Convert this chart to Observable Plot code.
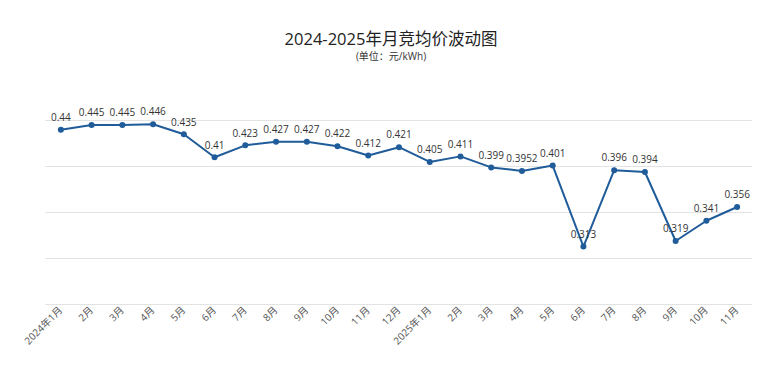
<!DOCTYPE html>
<html>
<head>
<meta charset="utf-8">
<script src="https://cdn.jsdelivr.net/npm/d3@7"></script>
<script src="https://cdn.jsdelivr.net/npm/@observablehq/plot@0.6"></script>
<style>
  html, body { margin: 0; padding: 0; background: #fff; }
  #wrap { position: relative; width: 782px; height: 380px; font-family: "Open Sans", "Noto Sans CJK SC", sans-serif; }
  #title { position: absolute; left: 0; width: 782px; top: 29px; text-align: center; font-size: 16.5px; color: #222; line-height: 19px; }
  #subtitle { position: absolute; left: 0; width: 782px; top: 50px; text-align: center; font-size: 10px; color: #333; line-height: 12px; }
</style>
</head>
<body>
<div id="wrap">
  <div id="chart"></div>
  <div id="title">2024-2025年月竞均价波动图</div>
  <div id="subtitle">(单位：元/kWh)</div>
</div>
<script>
const months = ["2024年1月","2月","3月","4月","5月","6月","7月","8月","9月","10月","11月","12月",
                "2025年1月","2月","3月","4月","5月","6月","7月","8月","9月","10月","11月"];
const prices = [0.44, 0.445, 0.445, 0.446, 0.435, 0.41, 0.423, 0.427, 0.427, 0.422, 0.412, 0.421,
                0.405, 0.411, 0.399, 0.3952, 0.401, 0.313, 0.396, 0.394, 0.319, 0.341, 0.356];
const yTicks = [0.25, 0.30, 0.35, 0.40, 0.45];

const data = prices.map((v, i) => ({i, v, label: String(v)}));
const color = "#1f5c99";

const chart = Plot.plot({
  width: 782,
  height: 380,
  marginTop: 120,
  marginBottom: 76,
  marginLeft: 45,
  marginRight: 30,
  style: {fontFamily: "'Open Sans', 'Noto Sans CJK SC', sans-serif", background: "#fff"},
  x: {type: "linear", domain: [-0.5, months.length - 0.5]},
  y: {domain: [0.25, 0.45], axis: null},
  marks: [
    Plot.ruleY(yTicks, {stroke: "#e3e3e3", strokeWidth: 1}),
    Plot.axisX({
      ticks: d3.range(months.length),
      tickFormat: i => months[i],
      tickRotate: -45,
      tickSize: 0,
      tickPadding: 4,
      fontSize: 10,
      fill: "#555",
      label: null
    }),
    Plot.line(data, {x: "i", y: "v", stroke: color, strokeWidth: 2}),
    Plot.dot(data, {x: "i", y: "v", fill: color, r: 3}),
    Plot.text(data, {x: "i", y: "v", text: "label", dy: -12, fontSize: 10, fill: "#333"})
  ]
});
document.getElementById("chart").appendChild(chart);
</script>
</body>
</html>
